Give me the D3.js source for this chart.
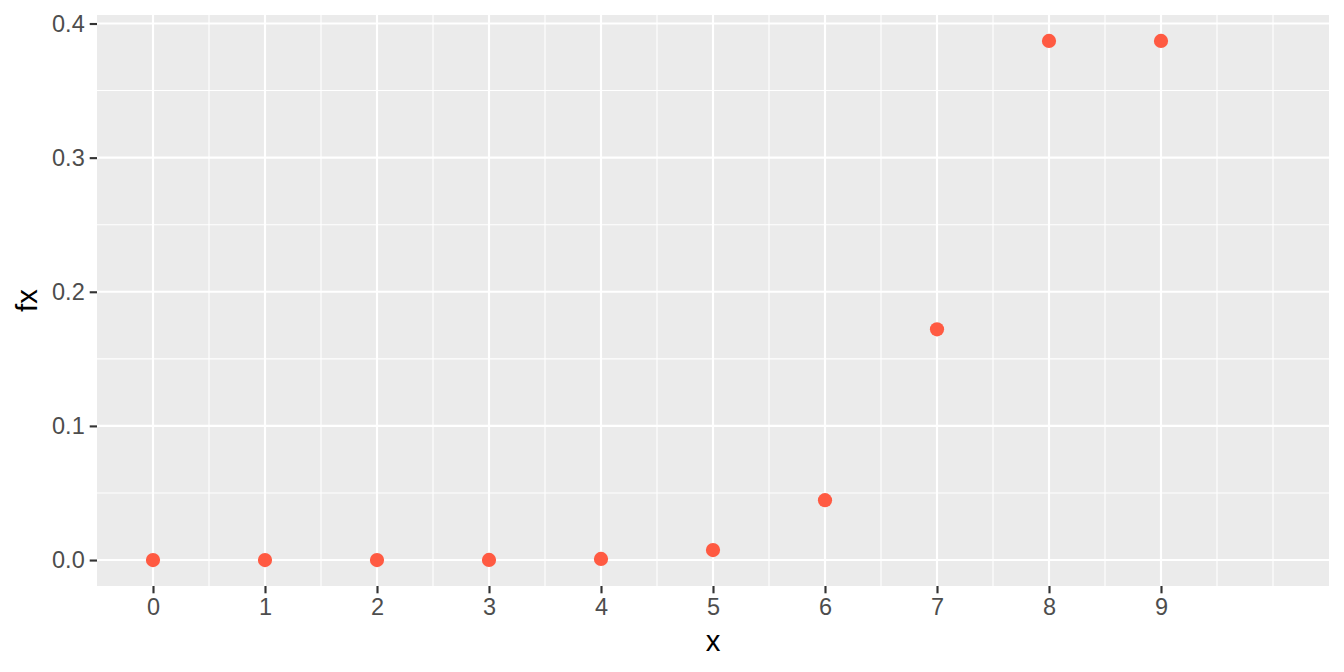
<!DOCTYPE html>
<html>
<head>
<meta charset="utf-8">
<script src="https://cdn.jsdelivr.net/npm/d3@7"></script>
<style>
  html, body { margin: 0; padding: 0; background: #fff; }
  svg { display: block; font-family: "Liberation Sans", Arial, sans-serif; }
</style>
</head>
<body>
<svg id="chart" width="1344" height="672"></svg>
<script>
// Data
const xValues = [0, 1, 2, 3, 4, 5, 6, 7, 8, 9];
const fxValues = [0.000000001, 0.00000008, 0.0000031, 0.0000744, 0.00083, 0.00744, 0.0446, 0.172, 0.387, 0.387];
const xTicks = [0, 1, 2, 3, 4, 5, 6, 7, 8, 9];
const xMinorTicks = [0.5, 1.5, 2.5, 3.5, 4.5, 5.5, 6.5, 7.5, 8.5, 9.5, 10];
const yTicks = [0, 0.1, 0.2, 0.3, 0.4];
const yMinorTicks = [0.05, 0.15, 0.25, 0.35];
const xLimits = [0, 10];
const xTitle = "x";
const yTitle = "fx";

const svg = d3.select("#chart");
const W = 1344, H = 672;
const panel = { left: 97, right: 1329, top: 15, bottom: 586 };

const xPad = (xLimits[1] - xLimits[0]) * 0.05;
const x = d3.scaleLinear()
  .domain([xLimits[0] - xPad, xLimits[1] + xPad])
  .range([panel.left, panel.right]);

const yMax = d3.max(fxValues), yMin = 0;
const yPad = (yMax - yMin) * 0.05;
const y = d3.scaleLinear()
  .domain([yMin - yPad, yMax + yPad])
  .range([panel.bottom, panel.top]);

// panel background
svg.append("rect")
  .attr("x", panel.left).attr("y", panel.top)
  .attr("width", panel.right - panel.left)
  .attr("height", panel.bottom - panel.top)
  .attr("fill", "#EBEBEB");

const grid = svg.append("g");
// minor grid
grid.selectAll(".ymin").data(yMinorTicks).enter().append("line")
  .attr("x1", panel.left).attr("x2", panel.right)
  .attr("y1", d => y(d)).attr("y2", d => y(d))
  .attr("stroke", "#fff").attr("stroke-width", 1.07);
grid.selectAll(".xmin").data(xMinorTicks).enter().append("line")
  .attr("y1", panel.top).attr("y2", panel.bottom)
  .attr("x1", d => x(d)).attr("x2", d => x(d))
  .attr("stroke", "#fff").attr("stroke-width", 1.07);
// major grid
grid.selectAll(".ymaj").data(yTicks).enter().append("line")
  .attr("x1", panel.left).attr("x2", panel.right)
  .attr("y1", d => y(d)).attr("y2", d => y(d))
  .attr("stroke", "#fff").attr("stroke-width", 2.13);
grid.selectAll(".xmaj").data(xTicks).enter().append("line")
  .attr("y1", panel.top).attr("y2", panel.bottom)
  .attr("x1", d => x(d)).attr("x2", d => x(d))
  .attr("stroke", "#fff").attr("stroke-width", 2.13);

// points
svg.append("g").selectAll("circle")
  .data(xValues.map((v, i) => ({ x: v, y: fxValues[i] })))
  .enter().append("circle")
  .attr("cx", d => x(d.x)).attr("cy", d => y(d.y))
  .attr("r", 7.1)
  .attr("fill", "#FF5A42");

// axes
const xAxis = d3.axisBottom(x).tickValues(xTicks).tickFormat(d3.format("d"))
  .tickSizeInner(7.3).tickSizeOuter(0).tickPadding(5);
const gx = svg.append("g").attr("transform", `translate(0,${panel.bottom})`).call(xAxis);
gx.select(".domain").remove();
gx.selectAll(".tick line").attr("stroke", "#333333").attr("stroke-width", 2.13);
gx.selectAll(".tick text").attr("fill", "#4D4D4D").attr("font-size", 23.5)
  .attr("font-family", "Liberation Sans, Arial, sans-serif");

const yAxis = d3.axisLeft(y).tickValues(yTicks).tickFormat(d3.format(".1f"))
  .tickSizeInner(7.3).tickSizeOuter(0).tickPadding(5);
const gy = svg.append("g").attr("transform", `translate(${panel.left},0)`).call(yAxis);
gy.select(".domain").remove();
gy.selectAll(".tick line").attr("stroke", "#333333").attr("stroke-width", 2.13);
gy.selectAll(".tick text").attr("fill", "#4D4D4D").attr("font-size", 23.5)
  .attr("font-family", "Liberation Sans, Arial, sans-serif");

// titles
svg.append("text")
  .attr("x", (panel.left + panel.right) / 2).attr("y", 651)
  .attr("text-anchor", "middle")
  .attr("font-size", 29.3).attr("fill", "#000")
  .text(xTitle);
svg.append("text")
  .attr("transform", `translate(37,${(panel.top + panel.bottom) / 2}) rotate(-90)`)
  .attr("text-anchor", "middle")
  .attr("font-size", 29.3).attr("fill", "#000")
  .text(yTitle);
</script>
</body>
</html>
